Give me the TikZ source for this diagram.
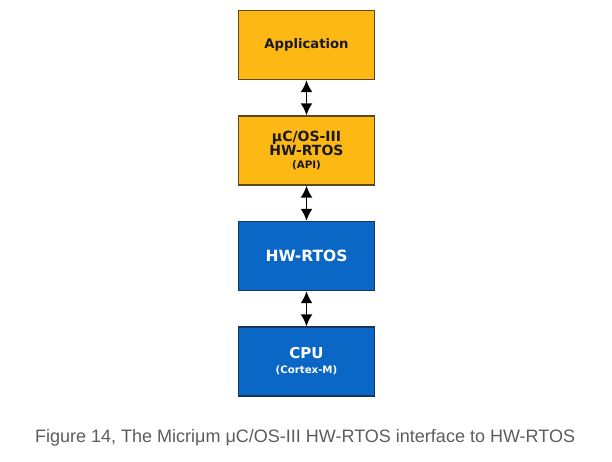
\documentclass[tikz,border=0pt]{standalone}
\usepackage{fontspec}
\setmainfont{Liberation Sans}
\newfontfamily\boxfont{DejaVu Sans}
\usepackage{tikz}
\usetikzlibrary{arrows.meta}
\definecolor{swyellow}{HTML}{FDB813}
\definecolor{swborder}{HTML}{5A4920}
\definecolor{hwblue}{HTML}{0A67C6}
\definecolor{hwborder}{HTML}{1B3556}
\definecolor{capgray}{HTML}{5C5C5C}

\begin{document}
\begin{tikzpicture}[x=1pt,y=-1pt,inner sep=0pt,node distance=105.5pt,>={Latex[length=12pt,width=12pt]},
  layer/.style={draw,line width=1.4pt,minimum width=136pt,minimum height=69pt,align=center,font=\boxfont\bfseries},
  swlayer/.style={layer,fill=swyellow,draw=swborder,text=black!90},
  hwlayer/.style={layer,fill=hwblue,draw=hwborder,text=white},
  link/.style={<->,line width=1.8pt}]
\useasboundingbox (0,0) rectangle (612,461);
\draw node [swlayer] (App) at (306.5,45) {\fontsize{13.2}{15}\selectfont Application};
\draw node [swlayer] [below of=App] (API) {\fontsize{14}{14}\selectfont μC/OS-III\\[0.5pt]\fontsize{14}{14}\selectfont HW-RTOS\\[1pt]\fontsize{10.3}{12}\selectfont (API)};
\draw node [hwlayer] [below of=API] (HW) {\fontsize{15.5}{18}\selectfont HW-RTOS};
\draw node [hwlayer] [below of=HW] (CPU) {\fontsize{15}{16}\selectfont CPU\\[3pt]\fontsize{10.2}{12}\selectfont (Cortex-M)};
\draw [link] (App.south) -- (API.north);
\draw [link] (API.south) -- (HW.north);
\draw [link] (HW.south) -- (CPU.north);
\node [anchor=base west,inner sep=0pt,text=capgray,font=\fontsize{18}{20}\selectfont] (Caption) at (35,442) {Figure 14, The Micriμm μC/OS-III HW-RTOS interface to HW-RTOS};
\end{tikzpicture}
\end{document}
